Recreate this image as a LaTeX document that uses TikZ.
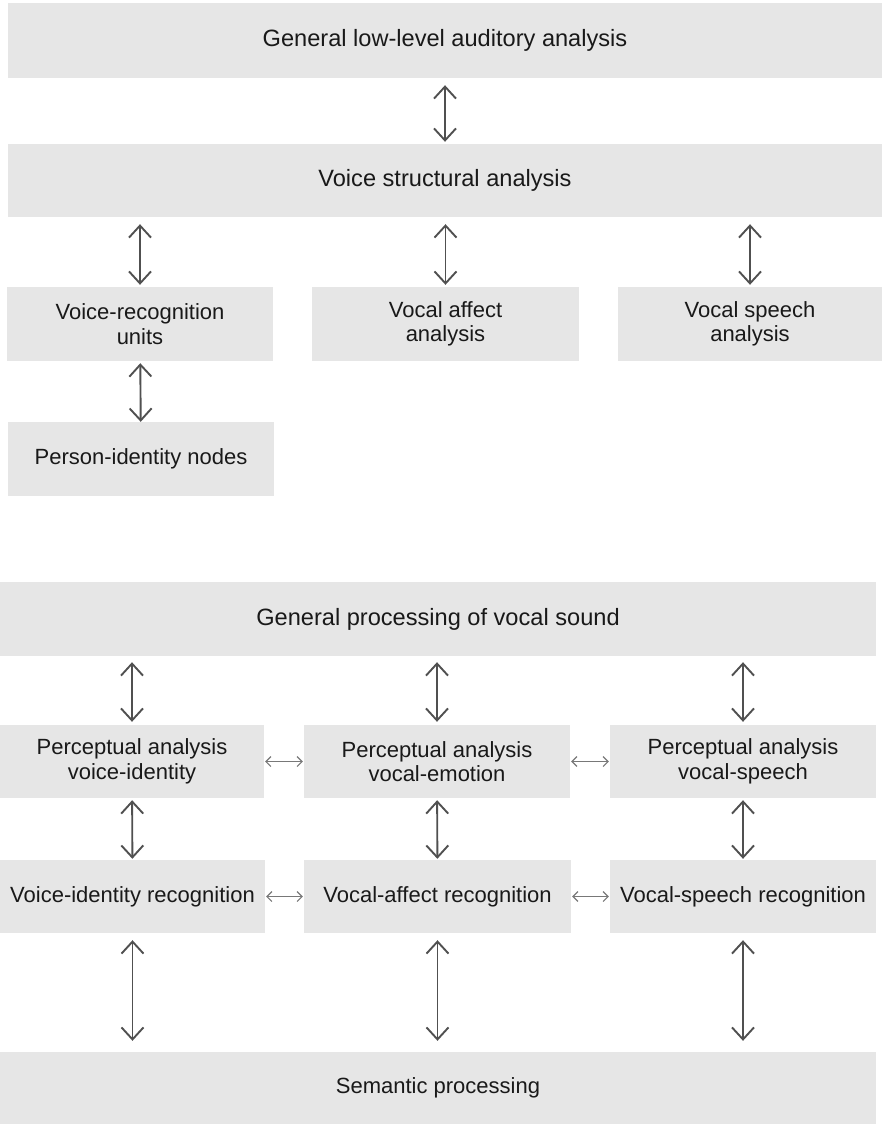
\documentclass[tikz,border=0pt]{standalone}
\usepackage{fontspec}
\setmainfont{Liberation Sans}
\usetikzlibrary{arrows.meta}
\definecolor{boxfill}{RGB}{230,230,230}
\definecolor{linkgray}{RGB}{80,80,80}
\definecolor{sidegray}{RGB}{120,120,120}
\definecolor{ink}{RGB}{25,25,25}

\begin{document}
\begin{tikzpicture}[x=1pt,y=-1pt,
  box/.style={fill=boxfill, draw=none, inner sep=0pt, align=center, text=ink,
    font=\fontsize{22}{24.5}\selectfont},
  wide/.style={box, font=\fontsize{23.6}{26}\selectfont},
  vlink/.style={linkgray, line width=1.9pt, {Straight Barb[length=12pt,width=22pt]}-{Straight Barb[length=12pt,width=22pt]},
    shorten <=7pt, shorten >=2pt},
  hlink/.style={sidegray, line width=1.1pt, {Straight Barb[length=5pt,width=10pt]}-{Straight Barb[length=5pt,width=10pt]},
    shorten <=1pt, shorten >=1pt}
]
\useasboundingbox (0,0) rectangle (882,1124);

% ---- upper model ----
\node[wide, minimum width=874pt, minimum height=75pt] (low) at (445,40.5) {General low-level auditory analysis};
\node[wide, minimum width=874pt, minimum height=73pt] (struct) at (445,180.5) {Voice structural analysis};
\node[box, minimum width=266pt, minimum height=74pt] (vru) at (140,324) {Voice-recognition\\units};
\node[box, minimum width=267pt, minimum height=74pt] (affect) at (445.5,324) {Vocal affect\\analysis};
\node[box, minimum width=264pt, minimum height=74pt] (speech) at (750,324) {Vocal speech\\analysis};
\node[box, minimum width=266pt, minimum height=74pt] (pin) at (141,459) {Person-identity nodes};

\draw[vlink] (low) -- (struct);
\draw[vlink] (struct.south -| vru) -- (vru);
\draw[vlink] (struct.south -| affect) -- (affect);
\draw[vlink] (struct.south -| speech) -- (speech);
\draw[vlink, shorten <=2pt, shorten >=0pt] (vru) -- (pin);

% ---- lower model ----
\node[wide, minimum width=876pt, minimum height=74pt] (gen) at (438,619) {General processing of vocal sound};
\node[box, minimum width=264pt, minimum height=73pt] (pid) at (132,761.5) {Perceptual analysis\\voice-identity};
\node[box, minimum width=266pt, minimum height=73pt] (pem) at (437,761.5) {Perceptual analysis\\vocal-emotion};
\node[box, minimum width=266pt, minimum height=73pt] (psp) at (743,761.5) {Perceptual analysis\\vocal-speech};
\node[box, minimum width=265pt, minimum height=73pt] (rid) at (132.5,896.5) {Voice-identity recognition};
\node[box, minimum width=267pt, minimum height=73pt] (raf) at (437.5,896.5) {Vocal-affect recognition};
\node[box, minimum width=266pt, minimum height=73pt] (rsp) at (743,896.5) {Vocal-speech recognition};
\node[box, minimum width=876pt, minimum height=72pt] (sem) at (438,1088) {Semantic processing};

\draw[vlink, shorten <=6pt, shorten >=3pt] (gen.south -| pid) -- (pid);
\draw[vlink, shorten <=6pt, shorten >=3pt] (gen.south -| pem) -- (pem);
\draw[vlink, shorten <=6pt, shorten >=3pt] (gen.south -| psp) -- (psp);
\draw[vlink, shorten <=2pt, shorten >=1pt] (pid) -- (rid);
\draw[vlink, shorten <=2pt, shorten >=1pt] (pem) -- (raf);
\draw[vlink, shorten <=2pt, shorten >=1pt] (psp) -- (rsp);
\draw[vlink, shorten <=7pt, shorten >=11pt] (rid) -- (sem.north -| rid);
\draw[vlink, shorten <=7pt, shorten >=11pt] (raf) -- (sem.north -| raf);
\draw[vlink, shorten <=7pt, shorten >=11pt] (rsp) -- (sem.north -| rsp);

\draw[hlink] (pid) -- (pem);
\draw[hlink] (pem) -- (psp);
\draw[hlink] (rid) -- (raf);
\draw[hlink] (raf) -- (rsp);
\end{tikzpicture}
\end{document}
